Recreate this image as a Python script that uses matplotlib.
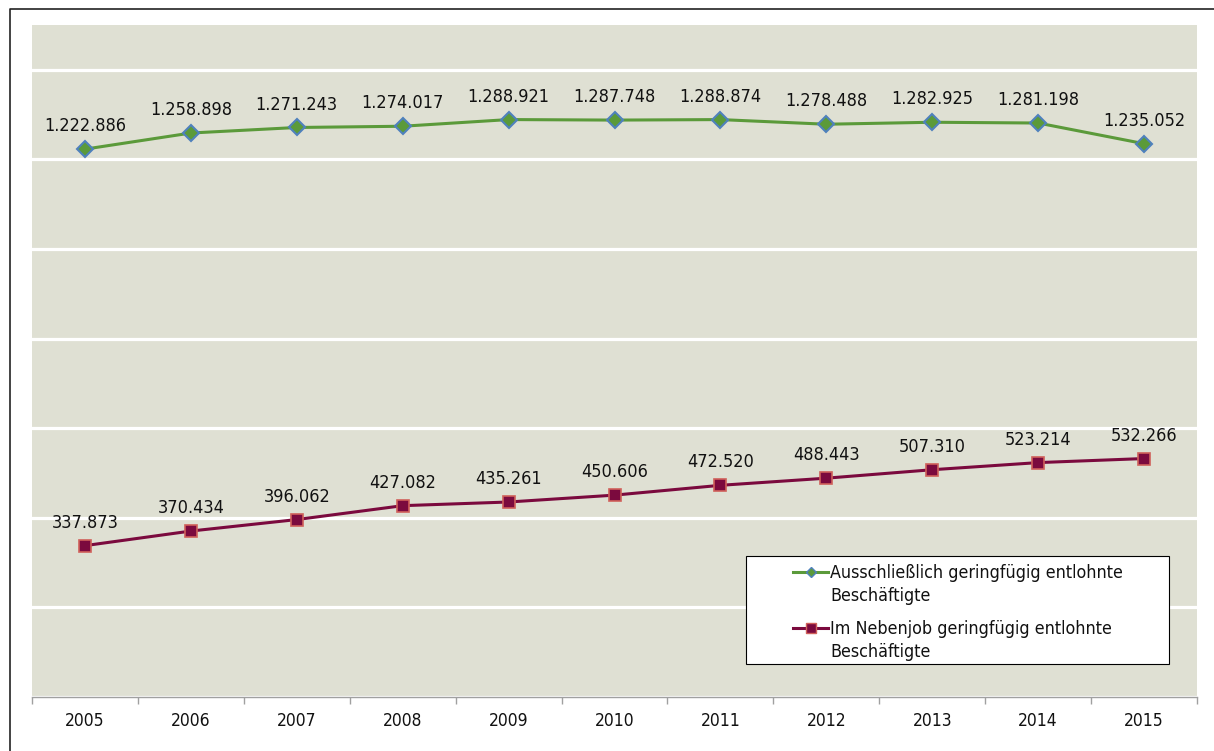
import matplotlib
matplotlib.use("Agg")
import matplotlib.pyplot as plt
from matplotlib.lines import Line2D
from matplotlib.patches import Rectangle
import numpy as np

plt.rcParams["font.family"] = ["DejaVu Sans"]
plt.rcParams["font.stretch"] = "condensed"

# Daten
jahre = ["2005", "2006", "2007", "2008", "2009", "2010", "2011", "2012", "2013", "2014", "2015"]
ausschl = [1222886, 1258898, 1271243, 1274017, 1288921, 1287748, 1288874, 1278488, 1282925, 1281198, 1235052]
neben = [337873, 370434, 396062, 427082, 435261, 450606, 472520, 488443, 507310, 523214, 532266]
label_a = "Ausschließlich geringfügig entlohnte\nBeschäftigte"
label_n = "Im Nebenjob geringfügig entlohnte\nBeschäftigte"

W, H = 1214, 751
fig = plt.figure(figsize=(W / 100, H / 100), dpi=100)
ax = fig.add_axes([32 / W, 1 - 697 / H, (1197 - 32) / W, (697 - 25) / H])
ax.set_facecolor("#dfe0d3")

x = np.arange(len(jahre))

# Farben
gruen = "#5b9a3a"
blau = "#4f81bd"
rot = "#7b0a3e"
rot_rand = "#d0605a"

ax.plot(x, ausschl, color=gruen, lw=2.2, marker="D", ms=8, mfc=gruen, mec=blau, mew=1.5, zorder=3)
ax.plot(x, neben, color=rot, lw=2.2, marker="s", ms=9, mfc=rot, mec=rot_rand, mew=1.2, zorder=3)

def fmt(v):
    return f"{v:,}".replace(",", ".")

for xi, v in zip(x, ausschl):
    ax.annotate(fmt(v), (xi, v), xytext=(0, 16.5), textcoords="offset points",
                ha="center", va="center", fontsize=13, color="#111111")
for xi, v in zip(x, neben):
    ax.annotate(fmt(v), (xi, v), xytext=(0, 16.5), textcoords="offset points",
                ha="center", va="center", fontsize=13, color="#111111")

# Achsen
ax.set_xlim(-0.5, len(jahre) - 0.5)
ax.set_ylim(0, 1500000)
ax.set_yticks(np.arange(0, 1400001, 200000))
ax.yaxis.grid(True, color="white", lw=2.3)
ax.set_axisbelow(True)
ax.tick_params(axis="y", length=0, labelleft=False)

ax.set_xticks(x)
ax.set_xticklabels(jahre, fontsize=12.5, color="#111111")
ax.set_xticks(np.arange(-0.5, len(jahre)), minor=True)
ax.tick_params(axis="x", which="major", length=0, pad=11)
ax.tick_params(axis="x", which="minor", length=5, color="#a0a0a0", width=1)

for s in ["top", "right", "left"]:
    ax.spines[s].set_visible(False)
ax.spines["bottom"].set_color("#a0a0a0")
ax.spines["bottom"].set_linewidth(1)

# Legende (Kasten)
lx0, ly0, lx1, ly1 = 746, 556, 1169, 664
fig.add_artist(Rectangle((lx0 / W, 1 - ly1 / H), (lx1 - lx0) / W, (ly1 - ly0) / H,
                         transform=fig.transFigure, facecolor="white", edgecolor="black", lw=0.8))
eintraege = [(label_a, gruen, "D", gruen, blau, 5, 572), (label_n, rot, "s", rot, rot_rand, 7, 628)]
for lab, col, mk, mfc, mec, ms, yy in eintraege:
    fig.add_artist(Line2D([793 / W, 828 / W], [1 - yy / H, 1 - yy / H], transform=fig.transFigure,
                          color=col, lw=2.2))
    fig.add_artist(Line2D([810.5 / W], [1 - yy / H], transform=fig.transFigure,
                          marker=mk, ms=ms, mfc=mfc, mec=mec, mew=1, lw=0))
    fig.text(830 / W, 1 - (yy - 8) / H, lab, fontsize=12.8, va="top", ha="left",
             color="#111111", linespacing=1.38)

# Rahmen
fig.add_artist(Line2D([9.5 / W, 9.5 / W, 1.0], [0.0, 1 - 8.5 / H, 1 - 8.5 / H],
                      transform=fig.transFigure, color="#222222", lw=1.2))

fig.savefig("out.png", dpi=100)
